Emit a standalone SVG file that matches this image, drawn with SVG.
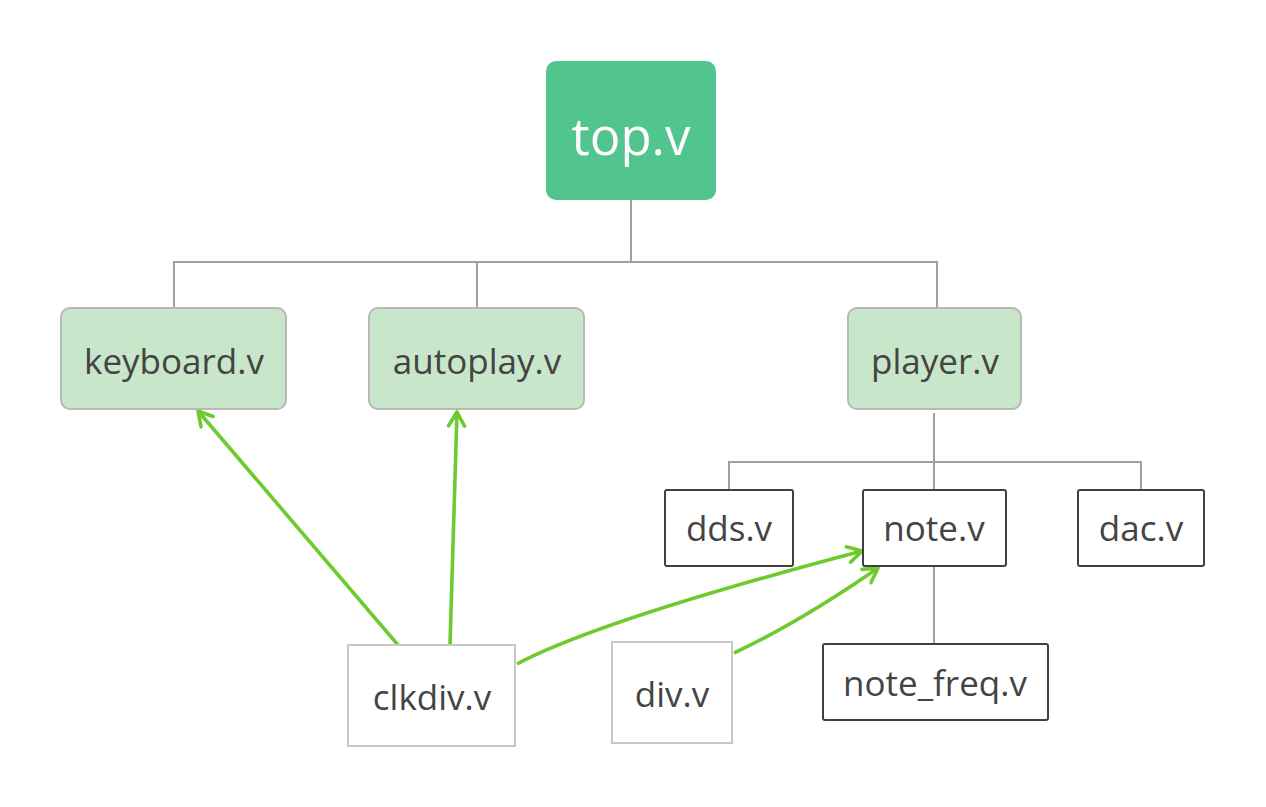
<svg xmlns="http://www.w3.org/2000/svg" width="1266" height="807" viewBox="0 0 1266 807">
<style>
.t{font-family:"Open Sans","Noto Sans","Liberation Sans",sans-serif;fill:#444;text-anchor:middle;font-size:35px}
.mod{fill:#C8E6CA;stroke:#B8B8B8;stroke-width:2}
.sub{fill:#fff;stroke:#404040;stroke-width:2}
.util{fill:#fff;stroke:#C8C8C8;stroke-width:2}
.tree{fill:none;stroke:#A0A0A0;stroke-width:2}
.dep{fill:none;stroke:#6DCB2E;stroke-width:3.6;marker-end:url(#ah)}
</style>
<defs>
<marker id="ah" viewBox="0 0 20 20" refX="17" refY="10" markerWidth="20" markerHeight="20" markerUnits="userSpaceOnUse" orient="auto">
<path d="M3,2 L17,10 L3,18" fill="none" stroke="#6DCB2E" stroke-width="3.6" stroke-linecap="round" stroke-linejoin="round"/>
</marker>
</defs>
<rect width="1266" height="807" fill="#fff"/>
<g id="connectors">
<path class="tree" d="M631,200 V262 M174,308 V262 H937 V308 M477,262 V308"/>
<path class="tree" d="M934,413 V490 M729,490 V462 H1141 V490"/>
<path class="tree" d="M934,566 V644"/>
<path class="dep" d="M398,645 L198,411"/>
<path class="dep" d="M450,645 L457,412"/>
<path class="dep" d="M517,664 Q600,620 862,551"/>
<path class="dep" d="M734,653 Q800,622 878,568"/>
</g>
<g id="top">
<rect x="546" y="61" width="170" height="139" rx="10" fill="#52C48D"/>
<text class="t" x="631" y="155" style="fill:#fff;font-size:51px">top.v</text>
</g>
<g id="keyboard">
<rect class="mod" x="61" y="308" width="225" height="101" rx="9"/>
<text class="t" x="174" y="374">keyboard.v</text>
</g>
<g id="autoplay">
<rect class="mod" x="369" y="308" width="215" height="101" rx="9"/>
<text class="t" x="477" y="374">autoplay.v</text>
</g>
<g id="player">
<rect class="mod" x="848" y="308" width="173" height="101" rx="9"/>
<text class="t" x="935" y="374">player.v</text>
</g>
<g id="dds">
<rect class="sub" x="665" y="490" width="128" height="76" rx="2"/>
<text class="t" x="729" y="541">dds.v</text>
</g>
<g id="note">
<rect class="sub" x="863" y="490" width="143" height="76" rx="2"/>
<text class="t" x="934" y="541">note.v</text>
</g>
<g id="dac">
<rect class="sub" x="1078" y="490" width="126" height="76" rx="2"/>
<text class="t" x="1141" y="541">dac.v</text>
</g>
<g id="note_freq">
<rect class="sub" x="823" y="644" width="225" height="76" rx="2"/>
<text class="t" x="935" y="696">note_freq.v</text>
</g>
<g id="clkdiv">
<rect class="util" x="348" y="645" width="167" height="101"/>
<text class="t" x="432" y="710">clkdiv.v</text>
</g>
<g id="div">
<rect class="util" x="612" y="642" width="120" height="101"/>
<text class="t" x="672" y="707">div.v</text>
</g>
</svg>
